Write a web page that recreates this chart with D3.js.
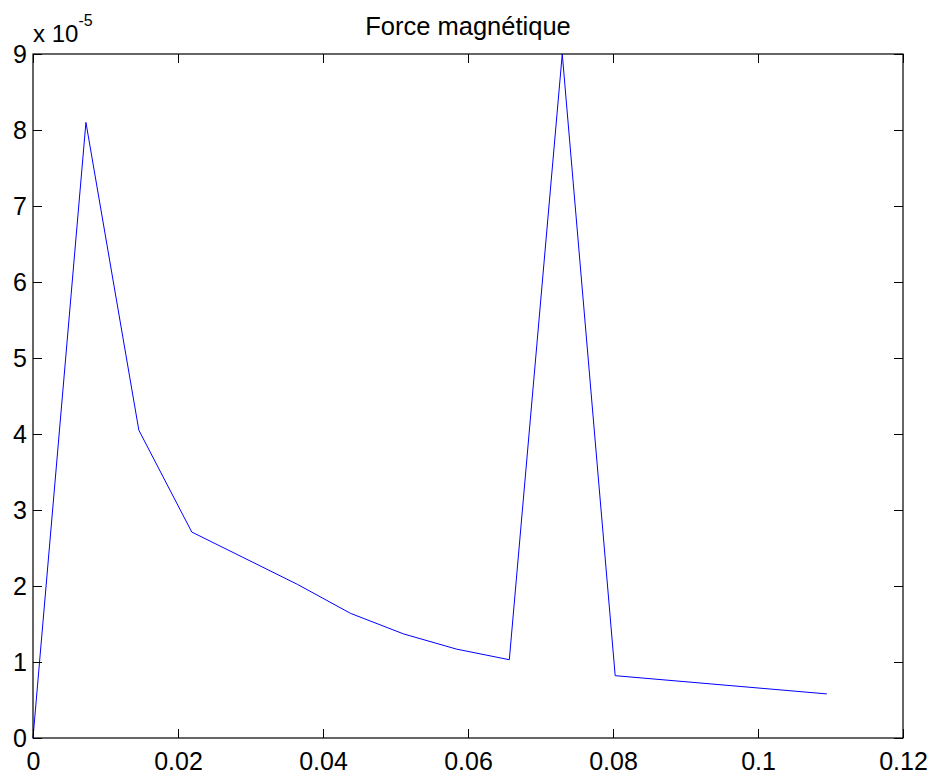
<!DOCTYPE html>
<html>
<head>
<meta charset="utf-8">
<script src="https://cdn.jsdelivr.net/npm/d3@7"></script>
<style>
  html, body { margin: 0; padding: 0; background: #fff; }
  svg { display: block; }
  text { font-family: "Liberation Sans", Arial, sans-serif; fill: #000; }
</style>
</head>
<body>
<svg id="chart" width="935" height="779"></svg>
<script>
// Position (m) and magnetic force (in units of 1e-5)
const positions = [0, 0.0073, 0.0146, 0.0219, 0.0365, 0.0438, 0.0511, 0.0584, 0.0657, 0.0730, 0.0803, 0.1095];
const forces    = [0, 8.10, 4.05, 2.71, 2.02, 1.64, 1.37, 1.17, 1.03, 9.00, 0.82, 0.58];
const xTicks = [0, 0.02, 0.04, 0.06, 0.08, 0.1, 0.12];
const yTicks = [0, 1, 2, 3, 4, 5, 6, 7, 8, 9];
const title = "Force magnétique";

const svg = d3.select("#chart");
const margin = { left: 33, right: 32, top: 54, bottom: 41 };
const W = 935, H = 779;
const x = d3.scaleLinear().domain([0, 0.12]).range([margin.left, W - margin.right]);
const y = d3.scaleLinear().domain([0, 9]).range([H - margin.bottom, margin.top]);

const fmt = d => d3.format("")(+d.toFixed(2));

// plotted line
const line = d3.line().x((d, i) => x(positions[i])).y(d => y(d));
svg.append("path")
  .datum(forces)
  .attr("d", line)
  .attr("fill", "none")
  .attr("stroke", "#0000ff")
  .attr("stroke-width", 1);

// axes (ticks pointing inward, mirrored on top and right)
const tickLen = 9;
function styleAxis(g) {
  g.select(".domain").remove();
  g.selectAll(".tick line").attr("stroke", "#000").attr("stroke-width", 1);
  g.selectAll("text").style("font-family", "'Liberation Sans', Arial, sans-serif").attr("fill", "#000");
}
svg.append("g")
  .attr("transform", `translate(0,${y(0)})`)
  .call(d3.axisBottom(x).tickValues(xTicks).tickSize(-tickLen).tickSizeOuter(0).tickPadding(14).tickFormat(fmt))
  .call(styleAxis)
  .selectAll("text").attr("font-size", 25);
svg.append("g")
  .attr("transform", `translate(0,${y(9)})`)
  .call(d3.axisTop(x).tickValues(xTicks).tickSize(-tickLen).tickSizeOuter(0).tickFormat(""))
  .call(styleAxis);
svg.append("g")
  .attr("transform", `translate(${x(0)},0)`)
  .call(d3.axisLeft(y).tickValues(yTicks).tickSize(-tickLen).tickSizeOuter(0).tickPadding(6).tickFormat(d3.format("d")))
  .call(styleAxis)
  .selectAll("text").attr("font-size", 25);
svg.append("g")
  .attr("transform", `translate(${x(0.12)},0)`)
  .call(d3.axisRight(y).tickValues(yTicks).tickSize(-tickLen).tickSizeOuter(0).tickFormat(""))
  .call(styleAxis);

// axes box
svg.append("rect")
  .attr("x", x(0)).attr("y", y(9))
  .attr("width", x(0.12) - x(0)).attr("height", y(0) - y(9))
  .attr("fill", "none").attr("stroke", "#000").attr("stroke-width", 1.2);

// exponent label
const expo = svg.append("text").attr("x", x(0)).attr("y", 42).attr("font-size", 24);
expo.append("tspan").text("x 10");
expo.append("tspan").attr("dy", -16).attr("font-size", 16).text("-5");

// title
svg.append("text")
  .attr("x", (x(0) + x(0.12)) / 2)
  .attr("y", 35)
  .attr("text-anchor", "middle")
  .attr("font-size", 25.5)
  .text(title);
</script>
</body>
</html>
